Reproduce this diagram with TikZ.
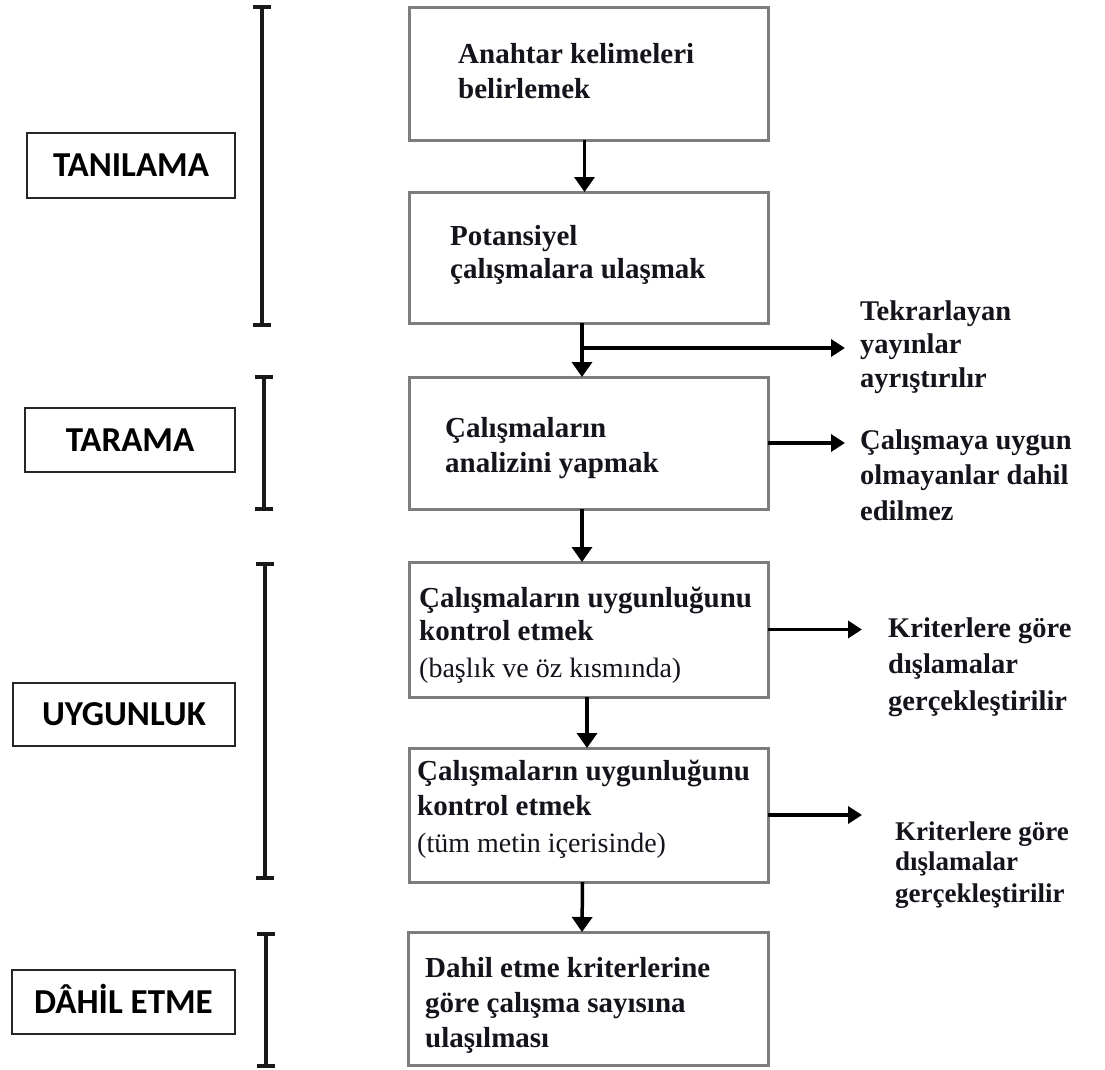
\documentclass[tikz,border=0pt]{standalone}
\usepackage{fontspec}
\setmainfont{Liberation Serif}
\newfontfamily\labelfont{Carlito}
\usetikzlibrary{arrows.meta}
\definecolor{boxgray}{RGB}{125,125,125}
\definecolor{inkblack}{RGB}{20,20,28}
\newcommand\mystrut{\rule{0pt}{22pt}}
\begin{document}
\begin{tikzpicture}[x=1pt,y=-1pt,
  flowbox/.style={draw=boxgray, line width=3pt, minimum width=359pt, inner sep=0pt, outer sep=0pt, rectangle},
  labelbox/.style={draw=black!85, line width=1.4pt, inner sep=0pt, outer sep=0pt, text height=22.5pt, text depth=0pt,
    font=\labelfont\bfseries\fontsize{35}{42}\selectfont},
  flowtxt/.style={anchor=north west, inner sep=0pt, align=left, text=inkblack, font=\bfseries\fontsize{29}{33}\selectfont},
  sidetxt/.style={anchor=north west, inner sep=0pt, align=left, text=inkblack, font=\bfseries\fontsize{28.5}{33}\selectfont},
  flowarrow/.style={line width=3.5pt, -{Triangle[width=20pt,length=15pt]}},
  sidearrow/.style={line width=3.5pt, -{Triangle[width=17pt,length=14pt]}},
  bracketline/.style={line width=4.5pt, draw=black!90}
]
\useasboundingbox (0,0) rectangle (1105,1069);

% flow boxes
\node[flowbox, minimum height=133pt] (b1) at (588.5,73.5) {};
\node[flowbox, minimum height=131pt] (b2) at (588.5,257.5) {};
\node[flowbox, minimum height=132pt] (b3) at (588.5,443) {};
\node[flowbox, minimum height=135pt] (b4) at (588.5,629.5) {};
\node[flowbox, minimum height=134pt] (b5) at (588.5,815) {};
\node[flowbox, minimum height=133pt, minimum width=360pt] (b6) at (588,998.5) {};

% texts inside the boxes
\node[flowtxt] (x1) at (458,41) {\mystrut Anahtar kelimeleri\\[2pt] belirlemek};
\node[flowtxt] (x2) at (450,223) {\mystrut Potansiyel\\ çalışmalara ulaşmak};
\node[flowtxt] (x3) at (445,415) {\mystrut Çalışmaların\\[2pt] analizini yapmak};
\node[flowtxt] (x4) at (419,585) {\mystrut Çalışmaların uygunluğunu\\ kontrol etmek\\[4pt] {\mdseries\fontsize{28}{33}\selectfont (başlık ve öz kısmında)}};
\node[flowtxt] (x5) at (417,758) {\mystrut Çalışmaların uygunluğunu\\[2pt] kontrol etmek\\[4pt] {\mdseries\fontsize{28}{33}\selectfont (tüm metin içerisinde)}};
\node[flowtxt] (x6) at (425,955) {\mystrut Dahil etme kriterlerine\\[2pt] göre çalışma sayısına\\[2pt] ulaşılması};

% side texts
\node[sidetxt] (t1) at (860,298) {\mystrut Tekrarlayan\\ yayınlar\\[1pt] ayrıştırılır};
\node[sidetxt] (t2) at (860,427) {\mystrut Çalışmaya uygun\\[2pt] olmayanlar dahil\\[3pt] edilmez};
\node[sidetxt] (t3) at (888,615) {\mystrut Kriterlere göre\\[3pt] dışlamalar\\[4pt] gerçekleştirilir};
\node[sidetxt, font=\bfseries\fontsize{27}{30}\selectfont] (t4) at (895,818) {\mystrut Kriterlere göre\\ dışlamalar\\[2pt] gerçekleştirilir};

% stage labels
\node[labelbox, minimum width=208pt, minimum height=65pt] (l1) at (131,165.5) {TANILAMA};
\node[labelbox, minimum width=210pt, minimum height=64pt] (l2) at (130,440) {TARAMA};
\node[labelbox, minimum width=222pt, minimum height=63pt] (l3) at (124,714.5) {UYGUNLUK};
\node[labelbox, minimum width=223pt, minimum height=64pt] (l4) at (123.5,1002) {DÂHİL ETME};

% brackets
\draw[bracketline] (262,7) -- (262,325);
\draw[bracketline] (253,7) -- (271,7);
\draw[bracketline] (253,325) -- (271,325);
\draw[bracketline] (264,377) -- (264,509);
\draw[bracketline] (255,377) -- (273,377);
\draw[bracketline] (255,509) -- (273,509);
\draw[bracketline] (265,564) -- (265,878);
\draw[bracketline] (256,564) -- (274,564);
\draw[bracketline] (256,878) -- (274,878);
\draw[bracketline] (266,934) -- (266,1066);
\draw[bracketline] (257,934) -- (275,934);
\draw[bracketline] (257,1066) -- (275,1066);

% vertical flow arrows
\coordinate (br) at (582,348);
\draw[flowarrow] ([xshift=-4pt]b1.south) -- ([xshift=-4pt]b2.north);
\draw[flowarrow] (b2.south -| br) -- (b3.north -| br);
\draw[flowarrow] ([xshift=-6.5pt]b3.south) -- ([xshift=-6.5pt]b4.north);
\draw[flowarrow] ([xshift=-1.5pt]b4.south) -- ([xshift=-1.5pt]b5.north);
\draw[flowarrow] ([xshift=-6pt]b5.south) -- ([xshift=-6pt]b6.north);

% side arrows
\coordinate (e1) at (845,348);
\coordinate (e2) at (845,443);
\coordinate (e3) at (862,629.5);
\coordinate (e4) at (862,815);
\draw[sidearrow] (br) -- (e1);
\draw[sidearrow] (b3.east) -- (e2);
\draw[sidearrow] (b4.east) -- (e3);
\draw[sidearrow] (b5.east) -- (e4);
\end{tikzpicture}
\end{document}
